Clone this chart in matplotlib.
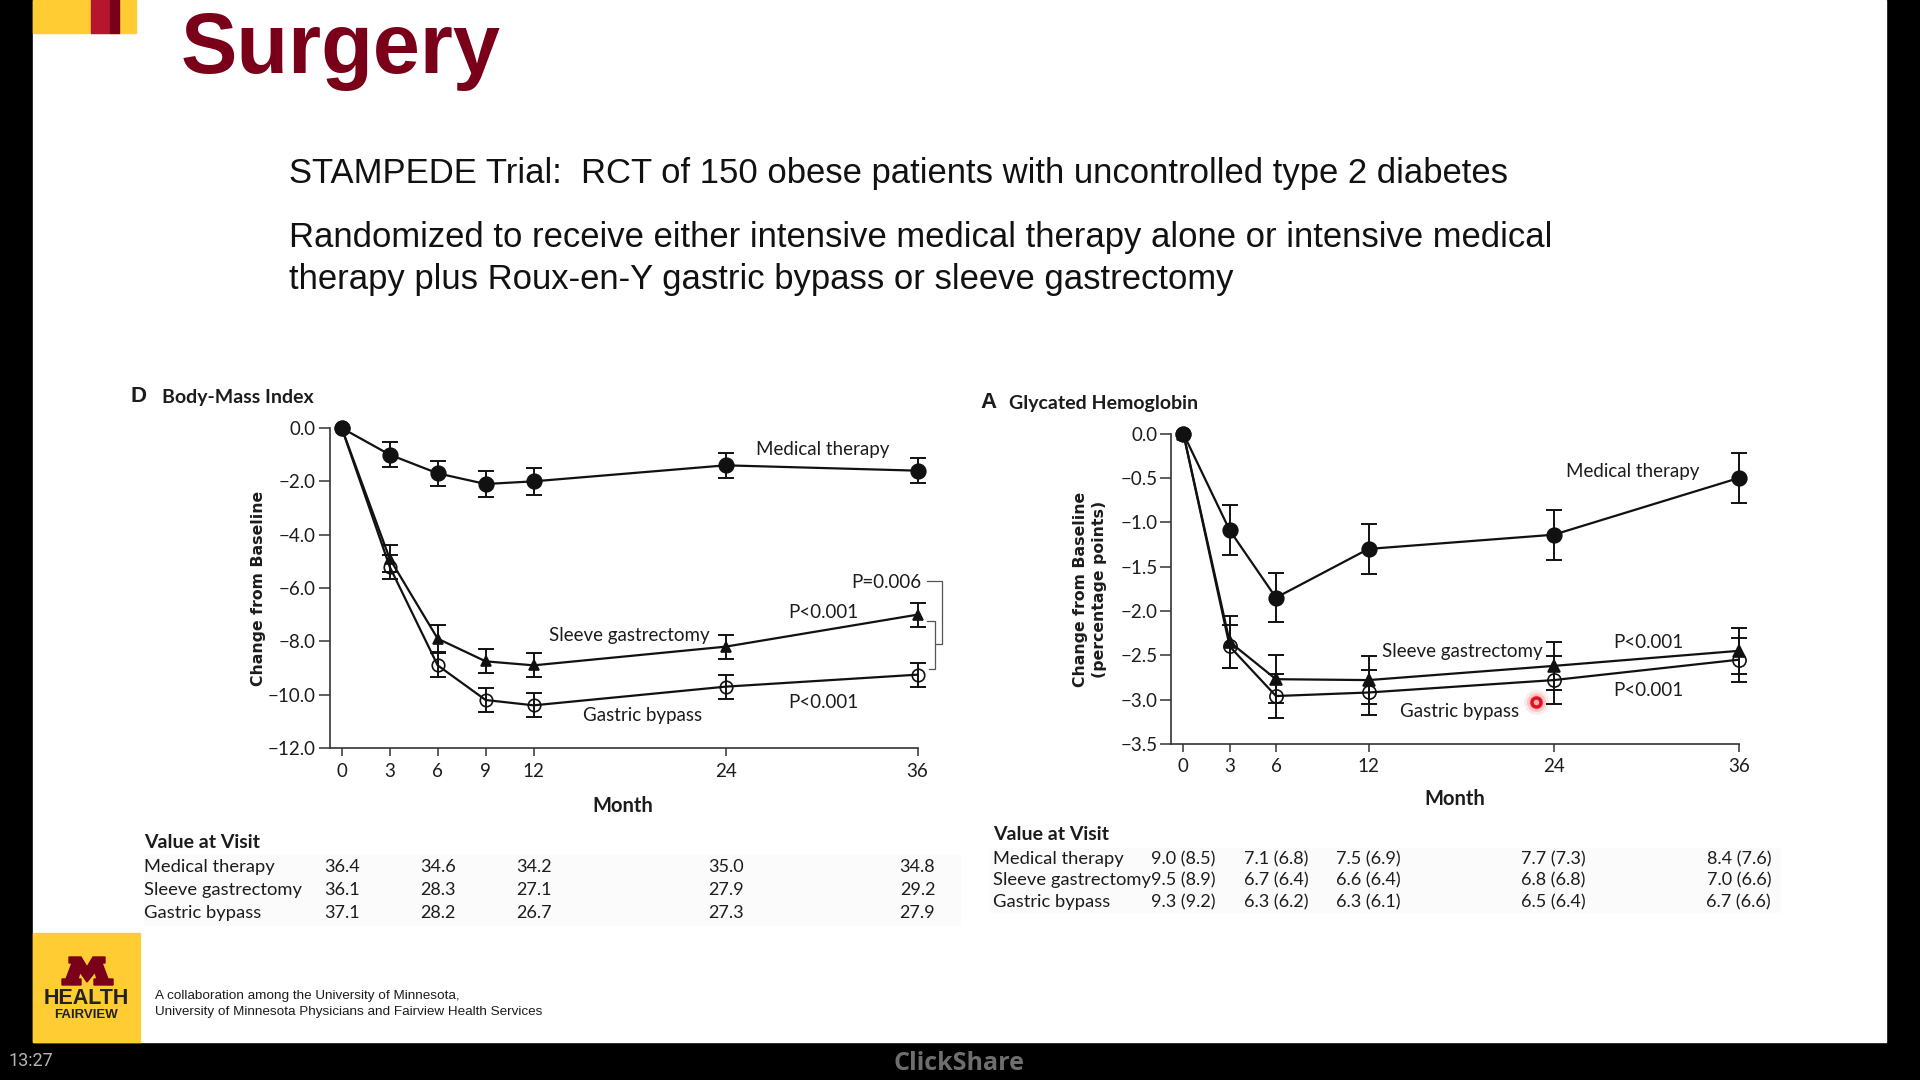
import numpy as np
import matplotlib
matplotlib.use("Agg")
import matplotlib.pyplot as plt
from matplotlib.patches import Rectangle, Polygon

W, H = 1920, 1080

# BMI panel
bmi_months = [0, 3, 6, 9, 12, 24, 36]
bmi_medical = [0.0, -1.0, -1.7, -2.1, -2.0, -1.4, -1.6]
bmi_medical_err = [0, 0.48, 0.48, 0.48, 0.5, 0.48, 0.48]
bmi_sleeve = [0.0, -4.9, -7.9, -8.75, -8.9, -8.2, -7.0]
bmi_sleeve_err = [0, 0.5, 0.5, 0.45, 0.45, 0.45, 0.45]
bmi_bypass = [0.0, -5.2, -8.9, -10.2, -10.4, -9.7, -9.25]
bmi_bypass_err = [0, 0.45, 0.45, 0.45, 0.45, 0.45, 0.45]
bmi_yticks = [0.0, -2.0, -4.0, -6.0, -8.0, -10.0, -12.0]
bmi_table_months = [0, 6, 12, 24, 36]
bmi_table = {
    "Medical therapy": ["36.4", "34.6", "34.2", "35.0", "34.8"],
    "Sleeve gastrectomy": ["36.1", "28.3", "27.1", "27.9", "29.2"],
    "Gastric bypass": ["37.1", "28.2", "26.7", "27.3", "27.9"],
}

# HbA1c panel
a1c_months = [0, 3, 6, 12, 24, 36]
a1c_medical = [0.0, -1.09, -1.85, -1.3, -1.14, -0.5]
a1c_medical_err = [0, 0.28, 0.28, 0.28, 0.28, 0.28]
a1c_sleeve = [0.0, -2.35, -2.77, -2.78, -2.62, -2.45]
a1c_sleeve_err = [0, 0.29, 0.27, 0.27, 0.27, 0.26]
a1c_bypass = [0.0, -2.4, -2.96, -2.92, -2.78, -2.55]
a1c_bypass_err = [0, 0.24, 0.25, 0.25, 0.27, 0.25]
a1c_yticks = [0.0, -0.5, -1.0, -1.5, -2.0, -2.5, -3.0, -3.5]
a1c_table_months = [0, 6, 12, 24, 36]
a1c_table = {
    "Medical therapy": ["9.0 (8.5)", "7.1 (6.8)", "7.5 (6.9)", "7.7 (7.3)", "8.4 (7.6)"],
    "Sleeve gastrectomy": ["9.5 (8.9)", "6.7 (6.4)", "6.6 (6.4)", "6.8 (6.8)", "7.0 (6.6)"],
    "Gastric bypass": ["9.3 (9.2)", "6.3 (6.2)", "6.3 (6.1)", "6.5 (6.4)", "6.7 (6.6)"],
}

NARROW = ["Lato", "Liberation Sans", "DejaVu Sans"]
ARIAL = ["Liberation Sans", "DejaVu Sans"]
INK = "#1c1c1c"
MAROON = "#7a0019"
GOLD = "#ffcc33"

fig = plt.figure(figsize=(W / 100, H / 100), dpi=100, facecolor="black")

# overlay in pixel coordinates for the slide furniture
bg = fig.add_axes([0, 0, 1, 1], zorder=0)
bg.set_xlim(0, W)
bg.set_ylim(H, 0)
bg.axis("off")
bg.add_patch(Rectangle((33, 0), 1853, 1042, color="white"))
bg.add_patch(Rectangle((33, 0), 103, 33, color=GOLD))
bg.add_patch(Rectangle((91, 0), 19, 33, color="#b5152f"))
bg.add_patch(Rectangle((110, 0), 9, 33, color=MAROON))
bg.add_patch(Rectangle((144, 855), 816, 70, color="#fbfbfb"))
bg.add_patch(Rectangle((990, 848), 790, 64, color="#fbfbfb"))

top = fig.add_axes([0, 0, 1, 1], zorder=3)
top.set_xlim(0, W)
top.set_ylim(H, 0)
top.axis("off")
top.patch.set_alpha(0)


def label(x, y, s, size=13.5, ha="center", weight="normal", family=NARROW, color=INK, **kw):
    top.text(x, y, s, fontsize=size, ha=ha, va="center", fontweight=weight,
             family=family, color=color, **kw)


label(181, 51, "Surgery", size=61, ha="left", weight="bold", family=ARIAL, color=MAROON)
label(289, 174, "STAMPEDE Trial:  RCT of 150 obese patients with uncontrolled type 2 diabetes",
      size=24.95, ha="left", family=ARIAL, color="#111111")
label(289, 238, "Randomized to receive either intensive medical therapy alone or intensive medical",
      size=24.95, ha="left", family=ARIAL, color="#111111")
label(289, 280, "therapy plus Roux-en-Y gastric bypass or sleeve gastrectomy",
      size=24.95, ha="left", family=ARIAL, color="#111111")

# logo
bg.add_patch(Rectangle((33, 933), 107, 109, color=GOLD))
top.add_patch(Polygon([(62, 985), (62, 979), (66, 979), (72, 963), (69, 963), (69, 957), (81, 957),
                       (87, 967), (93, 957), (105, 957), (105, 963), (102, 963), (108, 979),
                       (113, 979), (113, 985), (94, 985), (94, 979), (97, 979), (95, 972),
                       (87, 982), (80, 972), (78, 979), (81, 979), (81, 985)], color=MAROON))
label(86, 999, "HEALTH", size=15.5, weight="bold", family=ARIAL, color="#222222")
label(86, 1015, "FAIRVIEW", size=9.5, weight="bold", family=ARIAL, color="#222222")
label(155, 996, "A collaboration among the University of Minnesota,", size=9.7, ha="left", family=ARIAL)
label(155, 1012, "University of Minnesota Physicians and Fairview Health Services", size=9.7,
      ha="left", family=ARIAL)
label(8, 1061, "13:27", size=13, ha="left", family=["Roboto", "DejaVu Sans"], color="#b5b5b5")
label(959, 1063, "ClickShare", size=18, weight="bold", family=["Open Sans", "DejaVu Sans"], color="#6e6e6e")


def panel(x0, x1, y0, y1, months, series, yticks, ymin, xspine, tick_pad):
    ax = fig.add_axes([x0 / W, 1 - y1 / H, (x1 - x0) / W, (y1 - y0) / H], zorder=2)
    ax.patch.set_alpha(0)
    px_per_month = (x1 - x0) / 36
    ax.set_xlim(0, 36)
    ax.set_ylim(ymin, 0)
    for vals, err, marker, ms, mfc in series:
        ax.plot(months, vals, color="#111111", lw=1.6, zorder=2)
        ax.errorbar(months[1:], vals[1:], yerr=err[1:], fmt="none", ecolor="#111111",
                    elinewidth=1.4, capsize=6, capthick=1.4, zorder=3)
        ax.plot(months, vals, ls="none", marker=marker, ms=ms, mfc=mfc, mec="#111111",
                mew=1.2, zorder=4)
    ax.plot(months[0], 0, "o", ms=10.5, color="#111111", zorder=5)
    for art in ax.get_children():
        art.set_clip_on(False)

    for side in ["top", "right"]:
        ax.spines[side].set_visible(False)
    ax.spines["left"].set_position(("outward", (x0 - xspine) * 0.72))
    ax.spines["left"].set_color("#333333")
    ax.spines["bottom"].set_color("#333333")
    ax.spines["left"].set_linewidth(1.2)
    ax.spines["bottom"].set_linewidth(1.2)
    ax.spines["bottom"].set_bounds(-(x0 - xspine) / px_per_month, 36)
    ax.set_xticks(months)
    ax.set_yticks(yticks)
    ax.set_yticklabels([f"{t:.1f}".replace("-", "\u2212") if t else "0.0" for t in yticks])
    ax.tick_params(axis="x", length=6, width=1.1, color="#333333", pad=tick_pad)
    ax.tick_params(axis="y", length=8, width=1.1, color="#333333", pad=2)
    for t in ax.get_xticklabels() + ax.get_yticklabels():
        t.set_family(NARROW)
        t.set_fontsize(13.5)
        t.set_color(INK)
    return ax


def table(ax, col_months, rows, x_label, y_head, y_rows):
    label(x_label, y_head, "Value at Visit", size=14, ha="left", weight="bold")
    for (name, vals), y in zip(rows.items(), y_rows):
        label(x_label, y, name, size=13.2, ha="left")
        for m, v in zip(col_months, vals):
            px = ax.transData.transform((m, 0))[0]
            label(px, y, v, size=13)


bmi_series = [
    (bmi_medical, bmi_medical_err, "o", 10.5, "#111111"),
    (bmi_sleeve, bmi_sleeve_err, "^", 7.5, "#111111"),
    (bmi_bypass, bmi_bypass_err, "o", 9, "none"),
]
a1c_series = [
    (a1c_medical, a1c_medical_err, "o", 10.5, "#111111"),
    (a1c_sleeve, a1c_sleeve_err, "^", 8, "#111111"),
    (a1c_bypass, a1c_bypass_err, "o", 9.5, "none"),
]
ax_bmi = panel(341.7, 917.5, 428, 748, bmi_months, bmi_series, bmi_yticks, -12, 330, 4.5)
ax_a1c = panel(1183.4, 1738.8, 433.7, 743.9, a1c_months, a1c_series, a1c_yticks, -3.5, 1171.4, 4)

# left panel text
label(131, 396, "D", size=16, ha="left", weight="bold", family=ARIAL)
label(162, 397, "Body-Mass Index", size=14, ha="left", weight="bold")
label(258, 588, "Change from Baseline", size=11.3, weight="bold", family=["DejaVu Sans"], rotation=90)
label(623, 806, "Month", size=14.5, weight="bold")
label(823, 449, "Medical therapy")
label(629, 635, "Sleeve gastrectomy")
label(643, 716, "Gastric bypass")
label(886, 582, "P=0.006")
label(823, 612, "P<0.001")
label(823, 702, "P<0.001")
top.plot([927, 942, 942, 936], [581, 581, 644, 644], color="#555555", lw=0.9)
top.plot([927, 935, 935, 929], [621, 621, 669, 669], color="#555555", lw=0.9)
table(ax_bmi, bmi_table_months, bmi_table, 144.5, 842, [867, 890, 913])

# right panel text
label(980, 403, "A", size=16, ha="left", weight="bold", family=ARIAL)
label(1009, 403, "Glycated Hemoglobin", size=14, ha="left", weight="bold")
label(1090, 589, "Change from Baseline\n(percentage points)", size=11.3, weight="bold",
      family=["DejaVu Sans"], rotation=90, linespacing=1.35, multialignment="center")
label(1455, 799, "Month", size=14.5, weight="bold")
label(1633, 472, "Medical therapy")
label(1462, 652, "Sleeve gastrectomy")
label(1460, 711, "Gastric bypass")
label(1648, 643, "P<0.001")
label(1648, 690, "P<0.001")
table(ax_a1c, a1c_table_months, a1c_table, 993, 834, [859, 880, 902])

# laser pointer
for r, a in [(700, 0.10), (420, 0.18), (220, 0.3)]:
    top.scatter([1536], [702], s=r / 2.2, color="#ff3333", alpha=a, linewidths=0)
top.scatter([1536], [702], s=42, facecolor="#f5b0b0", edgecolor="#e01020", linewidths=2.4)

fig.savefig("out.png", dpi=100, facecolor="black")
